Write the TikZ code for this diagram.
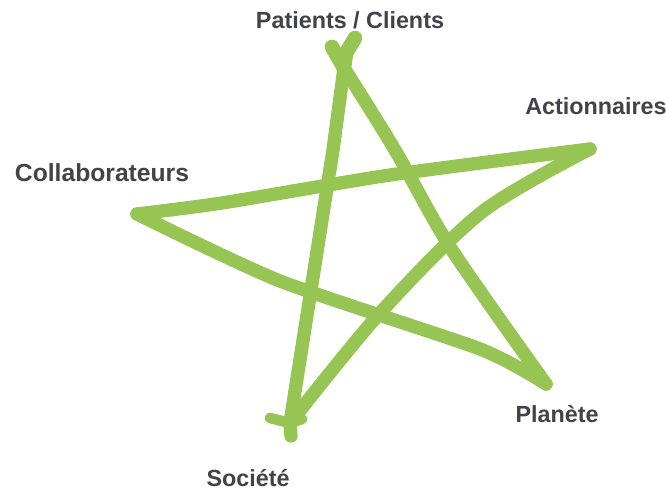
\documentclass[tikz,border=0pt]{standalone}
\usepackage{fontspec}
\setmainfont{Liberation Sans}
\definecolor{stargreen}{RGB}{151,197,84}
\definecolor{labelgray}{RGB}{66,66,74}
\tikzset{
  stroke/.style={color=stargreen,line width=10pt,line cap=round,line join=round},
  label/.style={text=labelgray,font=\fontsize{17.5}{20}\selectfont\bfseries,inner sep=0pt}
}
\begin{document}
\begin{tikzpicture}[x=0.75pt,y=-0.75pt]
\useasboundingbox (0,0) rectangle (666,491);
\coordinate (T) at (344,68);
\coordinate (R) at (590,149);
\coordinate (L) at (137,214);
\coordinate (BR) at (546,384);
\coordinate (BL) at (290,423);
\draw [stroke] (BL) -- (333,150) -- (T);
\draw [stroke,line width=11pt] (T) -- (332,47);
\draw [stroke,line width=11pt] (T) -- (346,53) -- (355,38);
\draw [stroke] plot [smooth,tension=0.5] coordinates {(T) (395,150) (452,250) (BR)};
\draw [stroke] plot [smooth,tension=0.4] coordinates {(BR) (480,349) (280,281) (L)};
\draw [stroke] plot [smooth,tension=0.4] coordinates {(L) (222,203) (390,175) (R)};
\draw [stroke] plot [smooth,tension=0.5] coordinates {(R) (482,212) (380,313) (BL)};
\draw [stroke,line width=8pt] (BL) -- (270,418);
\draw [stroke,line width=8pt] (BL) -- (302,419);
\draw [stroke] (BL) -- (291,436);
\node [label] (patients) at (350,20) {Patients / Clients};
\node [label] (actionnaires) at (596,106) {Actionnaires};
\node [label,font=\fontsize{18.5}{20}\selectfont\bfseries] (collab) at (102,173) {Collaborateurs};
\node [label] (planete) at (557,414) {Planète};
\node [label] (societe) at (248,478) {Société};
\end{tikzpicture}
\end{document}
